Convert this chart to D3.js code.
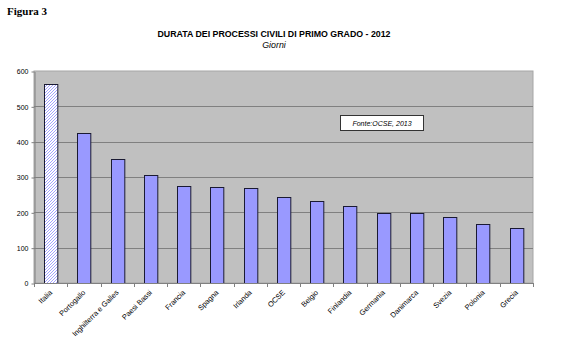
<!DOCTYPE html>
<html>
<head>
<meta charset="utf-8">
<script src="https://cdn.jsdelivr.net/npm/d3@7"></script>
<style>
  body { margin: 0; background: #fff; }
  text { font-family: Arial, "Liberation Sans", sans-serif; }
</style>
</head>
<body>
<div id="chart"></div>
<script>
// data
const countries = ["Italia", "Portogallo", "Inghilterra e Galles", "Paesi Bassi", "Francia",
    "Spagna", "Irlanda", "OCSE", "Belgio", "Finlandia", "Germania", "Danimarca",
    "Svezia", "Polonia", "Grecia"];
const days = [564, 425, 350, 305, 274, 272, 270, 242, 233, 219, 199, 199, 186, 166, 155];
const yTicks = [0, 100, 200, 300, 400, 500, 600];

// dimensions
var width = 569, height = 351;
var plot = {left: 34, right: 533, top: 71, bottom: 283};

let svg = d3.select("#chart")
    .append("svg")
    .attr("width", width)
    .attr("height", height);

// hatch pattern for Italia
var defs = svg.append("defs");
var pat = defs.append("pattern")
    .attr("id", "hatch")
    .attr("patternUnits", "userSpaceOnUse")
    .attr("width", 3)
    .attr("height", 3);
pat.append("rect").attr("width", 3).attr("height", 3).attr("fill", "#ffffff");
pat.append("path")
    .attr("d", "M-1,1 L1,-1 M0,3 L3,0 M2,4 L4,2")
    .attr("stroke", "#9999ff")
    .attr("stroke-width", 0.9);

// figure label and titles
svg.append("text")
    .text("Figura 3")
    .attr("x", 7)
    .attr("y", 15)
    .style("font-family", "'Liberation Serif', 'Times New Roman', serif")
    .style("font-weight", "bold")
    .style("font-size", "11px");

svg.append("text")
    .text("DURATA DEI PROCESSI CIVILI DI PRIMO GRADO - 2012")
    .attr("x", 274)
    .attr("y", 37)
    .attr("text-anchor", "middle")
    .style("font-weight", "bold")
    .style("font-size", "8.8px");

svg.append("text")
    .text("Giorni")
    .attr("x", 274)
    .attr("y", 48)
    .attr("text-anchor", "middle")
    .style("font-style", "italic")
    .style("font-size", "8.8px");

// scales
var xScale = d3.scaleBand()
    .domain(countries)
    .range([plot.left, plot.right])
    .paddingInner(0.6)
    .paddingOuter(0.3);

var yScale = d3.scaleLinear()
    .domain([0, 600])
    .range([plot.bottom, plot.top]);

// plot background
svg.append("rect")
    .attr("x", plot.left)
    .attr("y", plot.top)
    .attr("width", plot.right - plot.left)
    .attr("height", plot.bottom - plot.top)
    .attr("fill", "#c0c0c0")
    .attr("stroke", "#a6a6a6")
    .attr("stroke-width", 1);

// gridlines
svg.selectAll(".grid")
    .data(yTicks.filter(d => d > 0 && d < 600))
    .enter()
    .append("line")
    .attr("x1", plot.left)
    .attr("x2", plot.right)
    .attr("y1", d => Math.round(yScale(d)) + 0.5)
    .attr("y2", d => Math.round(yScale(d)) + 0.5)
    .attr("stroke", "#808080")
    .attr("stroke-width", 1);

// y axis
var yAxis = svg.append("g")
    .attr("transform", "translate(" + (plot.left + 0.5) + ",0.5)")
    .call(d3.axisLeft(yScale).tickValues(yTicks).tickSize(3).tickPadding(3).tickSizeOuter(0));
yAxis.select(".domain").attr("stroke", "#808080");
yAxis.selectAll(".tick line").attr("stroke", "#808080");
yAxis.selectAll("text")
    .style("font-size", "7px")
    .style("font-family", "Arial, 'Liberation Sans', sans-serif")
    .attr("fill", "#000");

// bars
svg.selectAll(".bar")
    .data(days)
    .enter()
    .append("rect")
    .attr("class", "bar")
    .attr("x", (d, i) => Math.round(xScale(countries[i])) + 0.5)
    .attr("y", d => Math.round(yScale(d)) + 0.5)
    .attr("width", xScale.bandwidth())
    .attr("height", d => Math.round(yScale(0)) - Math.round(yScale(d)))
    .attr("fill", (d, i) => i === 0 ? "url(#hatch)" : "#9999ff")
    .attr("stroke", "#1a1a33")
    .attr("stroke-width", 1);

// x axis line and ticks between bands
var step = xScale.step();
svg.append("line")
    .attr("x1", plot.left)
    .attr("x2", plot.right)
    .attr("y1", plot.bottom + 0.5)
    .attr("y2", plot.bottom + 0.5)
    .attr("stroke", "#808080");
var edges = countries.map((c, i) => plot.left + i * step).concat([plot.right]);
svg.selectAll(".xtick")
    .data(edges)
    .enter()
    .append("line")
    .attr("x1", d => Math.round(d) + 0.5)
    .attr("x2", d => Math.round(d) + 0.5)
    .attr("y1", plot.bottom)
    .attr("y2", plot.bottom + 4)
    .attr("stroke", "#808080");

// x labels
svg.selectAll(".xlabel")
    .data(countries)
    .enter()
    .append("text")
    .attr("class", "xlabel")
    .text(d => d)
    .attr("text-anchor", "end")
    .attr("transform", d => "translate(" + (xScale(d) + xScale.bandwidth() / 2 + 2) + "," + (plot.bottom + 10) + ") rotate(-45)")
    .style("font-size", "7.4px");

// source box
svg.append("rect")
    .attr("x", 340.5)
    .attr("y", 115.5)
    .attr("width", 83)
    .attr("height", 15)
    .attr("fill", "#fff")
    .attr("stroke", "#333")
    .attr("stroke-width", 1);
svg.append("text")
    .text("Fonte:OCSE, 2013")
    .attr("x", 382)
    .attr("y", 125.5)
    .attr("text-anchor", "middle")
    .style("font-style", "italic")
    .style("font-size", "7px");
</script>
</body>
</html>
